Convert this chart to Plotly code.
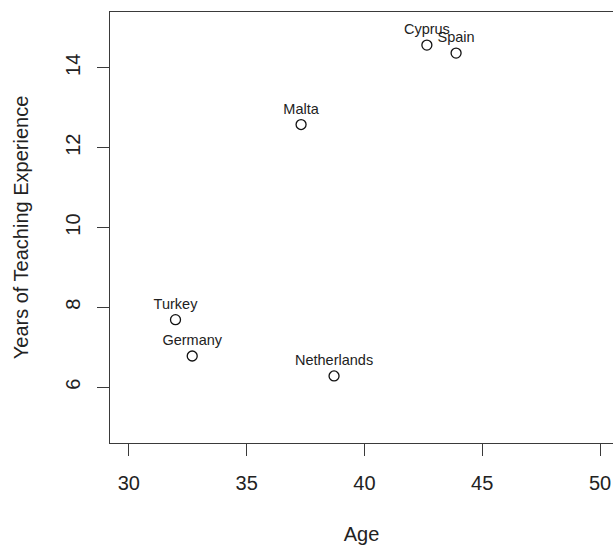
import plotly.graph_objects as go

countries = ["Cyprus", "Spain", "Malta", "Turkey", "Germany", "Netherlands"]
age = [42.65, 43.89, 37.31, 31.98, 32.69, 38.71]
experience = [14.57, 14.37, 12.58, 7.69, 6.78, 6.28]

x_ticks = [30, 35, 40, 45, 50]
y_ticks = [6, 8, 10, 12, 14]

FONT = "Liberation Sans, Arial, Helvetica, sans-serif"
LINE = "#3a3a3a"

fig = go.Figure()
fig.add_trace(go.Scatter(
    x=age, y=experience, mode="markers+text", text=countries,
    textposition="top center",
    textfont=dict(family=FONT, size=14.5, color="#222"),
    marker=dict(symbol="circle-open", size=10, color="#111", line=dict(width=1.3, color="#111")),
    cliponaxis=False, showlegend=False,
))

fig.update_layout(
    width=613, height=545,
    margin=dict(l=110, r=0, t=12, b=102),
    paper_bgcolor="white", plot_bgcolor="white",
    font=dict(family=FONT, color="#222"),
    xaxis=dict(
        range=[29.2, 50.55], tickvals=x_ticks, ticktext=[str(v) for v in x_ticks],
        showgrid=False, zeroline=False, showline=True, mirror=True, automargin=False,
        linecolor=LINE, linewidth=1, ticks="outside", ticklen=12, tickcolor=LINE,
        tickfont=dict(size=20, family=FONT, color="#222"), ticklabelstandoff=10,
        title=dict(text="Age", font=dict(size=20, family=FONT, color="#222"), standoff=35),
    ),
    yaxis=dict(
        range=[4.6, 15.4], tickvals=y_ticks, ticktext=[str(v) for v in y_ticks],
        showgrid=False, zeroline=False, showline=True, mirror=False, automargin=False,
        linecolor=LINE, linewidth=1, ticks="outside", ticklen=12, tickcolor=LINE,
        tickangle=-90,
        tickfont=dict(size=20, family=FONT, color="#222"), ticklabelstandoff=9,
        title=dict(text="Years of Teaching Experience", font=dict(size=20, family=FONT, color="#222"), standoff=28),
    ),
)

fig.write_html(
    "out.html",
    config={"displayModeBar": False},
    post_script="document.body.style.margin='0';document.body.style.overflow='hidden';",
)
